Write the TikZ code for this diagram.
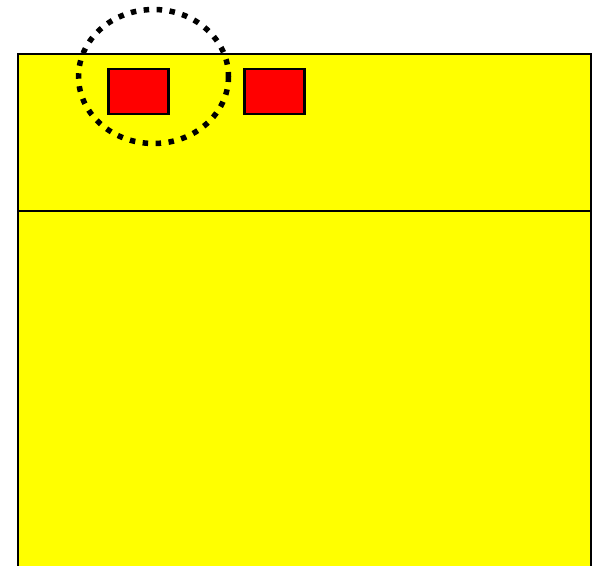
\documentclass[tikz,border=0pt]{standalone}
\definecolor{yel}{RGB}{255,255,0}
\definecolor{rd}{RGB}{255,0,0}
\begin{document}
\begin{tikzpicture}[x=1pt,y=-1pt,
  panel/.style={draw=black,line width=2.4pt,fill=yel},
  redbox/.style={draw=black,line width=2.4pt,fill=rd},
  ring/.style={draw=black,line width=5.5pt,dash pattern=on 5.5pt off 7.5pt}]
\useasboundingbox (0,0) rectangle (599,565);
\fill[white] (0,0) rectangle (599,565);
\draw[panel] (18,54) rectangle (591,575);
\draw[line width=2.4pt] (18,211) -- (591,211);
\node[redbox,minimum width=60pt,minimum height=45pt,inner sep=0pt] (r1) at (138.5,91.5) {};
\node[redbox,minimum width=60pt,minimum height=45pt,inner sep=0pt] (r2) at (274.5,91.5) {};
\draw[ring] (153.5,76.5) ellipse [x radius=75, y radius=67];
\end{tikzpicture}
\end{document}
